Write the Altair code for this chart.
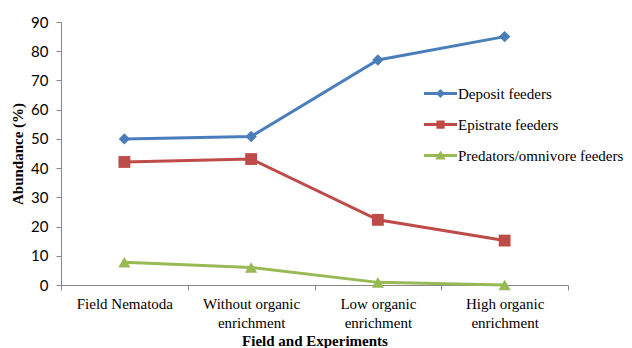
import json
import altair as alt
import pandas as pd

categories = ["Field Nematoda", "Without  organic\nenrichment", "Low organic\nenrichment", "High organic\nenrichment"]
series = ["Deposit feeders", "Epistrate feeders", "Predators/omnivore feeders"]
deposit = [50, 50.8, 77, 85]
epistrate = [42.1, 43.1, 22.3, 15.2]
predators = [7.8, 6.0, 0.9, 0]
y_ticks = [0, 10, 20, 30, 40, 50, 60, 70, 80, 90]

colors = ["#4A7EBB", "#BE4B48", "#98B954"]
point_shapes = ["diamond", "square", "triangle-up"]
point_sizes = [130, 140, 150]
stub = "M-1,-0.09L1,-0.09L1,0.09L-1,0.09Z"
legend_paths = [
    stub + "M0,-0.27L0.27,0L0,0.27L-0.27,0Z",
    stub + "M-0.25,-0.25L0.25,-0.25L0.25,0.25L-0.25,0.25Z",
    stub + "M0,-0.3L0.32,0.24L-0.32,0.24Z",
]

rows = []
for s, vals in zip(series, [deposit, epistrate, predators]):
    for c, v in zip(categories, vals):
        rows.append({"category": c, "series": s, "value": v})
df = pd.DataFrame(rows)

x_enc = alt.X(
    "category:N",
    sort=categories,
    scale=alt.Scale(paddingInner=0, paddingOuter=0),
    axis=alt.Axis(
        title="Field and Experiments",
        labelAngle=0,
        labelExpr="split(datum.label, '\\n')",
        tickBand="extent",
        tickSize=5,
        labelPadding=6,
        labelLineHeight=19,
        titlePadding=3,
    ),
)
y_enc = alt.Y(
    "value:Q",
    scale=alt.Scale(domain=[0, 90], nice=False),
    axis=alt.Axis(
        title="Abundance (%)",
        values=y_ticks,
        grid=False,
        tickSize=5,
        labelPadding=8,
        titlePadding=5,
        labelFont="Lato",
        labelFontSize=15,
    ),
)

shape_expr = f"{json.dumps(legend_paths)}[indexof({json.dumps(series)}, datum.value)]"

leg = alt.Legend(
    title=None,
    orient="none",
    legendX=363,
    legendY=55,
    symbolType={"expr": shape_expr},
    symbolSize=1089,
    symbolStrokeWidth=0,
    symbolOpacity=1,
    labelFont="Liberation Serif",
    labelFontSize=15,
    labelColor="black",
    labelOffset=1,
    labelLimit=400,
    rowPadding=6,
    padding=0,
)

color_scale = alt.Scale(domain=series, range=colors)

legend_carrier = alt.Chart(df).mark_point(filled=True, opacity=1, size=4).encode(
    x=x_enc, y=y_enc,
    fill=alt.Fill("series:N", scale=color_scale, legend=leg),
)

line_layers = []
point_layers = []
for s, col, shp, sz in zip(series, colors, point_shapes, point_sizes):
    base = alt.Chart(df).transform_filter(alt.datum.series == s)
    line_layers.append(
        base.mark_line(strokeWidth=3, color=col).encode(x=x_enc, y=y_enc)
    )
    point_layers.append(
        base.mark_point(filled=True, opacity=1, size=sz, shape=shp, color=col).encode(x=x_enc, y=y_enc)
    )

chart = (
    alt.layer(*line_layers, legend_carrier, *point_layers)
    .properties(
        width=507,
        height=263,
        autosize=alt.AutoSizeParams(type="none"),
        padding={"left": 61, "top": 22, "right": 64, "bottom": 63},
        background="white",
    )
    .configure_view(stroke=None)
    .configure_axis(
        domainColor="#868686",
        tickColor="#868686",
        labelFont="Liberation Serif",
        labelFontSize=15,
        labelColor="black",
        titleFont="Liberation Serif",
        titleFontSize=15,
        titleFontWeight="bold",
        titleColor="black",
    )
)

chart.save("out.html", embed_options={"renderer": "svg", "actions": False})
